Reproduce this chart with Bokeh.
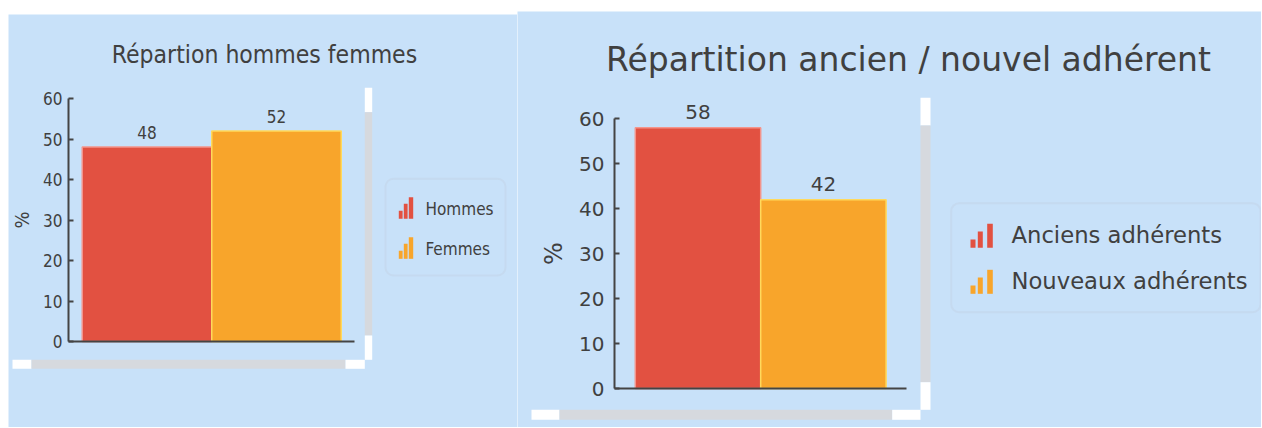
from bokeh.plotting import figure
from bokeh.models import (ColumnDataSource, LinearAxis, FixedTicker, Range1d,
                          Label, BoxAnnotation, Spacer)
from bokeh.layouts import row, column
from bokeh.core.properties import value
from bokeh.embed import file_html
from bokeh.resources import INLINE

# ---------------- data ----------------
gender_categories = ["Hommes", "Femmes"]
gender_values = [48, 52]
member_categories = ["Anciens adhérents", "Nouveaux adhérents"]
member_values = [58, 42]
y_ticks = [0, 10, 20, 30, 40, 50, 60]
title_gender = "Répartion hommes femmes"
title_member = "Répartition ancien / nouvel adhérent"
y_axis_label = "%"

# ---------------- styles ----------------
BG = "#c8e1f9"
BAR_FILL = ["#e25141", "#f8a52b"]
BAR_LINE = ["#f4948b", "#ffd95c"]
TEXT = "#404040"
AXIS = "#444444"
DECO_GREY = "#d6d9de"
DECO_WHITE = "#ffffff"
LEGEND_BORDER = "#bfcbd9"

PAGE_X0 = 8  # white strip on the left of the first panel

# layout constants in page pixels (text y = visual centre of the text)
LEFT_CFG = dict(
    left=8, top=14, width=509, height=413,
    y0=341, y60=98, x_c0=146.5, bar_px=129.5,
    axis_x=68, axis_x_end=354,
    font="DejaVu Sans Condensed",
    title_size=24.5, title_cx=264, title_cy=54,
    tick_size=17, tick_standoff=6, lab_size=20, lab_standoff=6,
    val_size=17, val_off=14.5,
    leg_box=(385, 505, 178.3, 275), leg_text_x=425, leg_cy=[208.3, 248.3], leg_size=17,
    icon_left=398.3, icon_bottom=[218.3, 258.3],
    icon_bars=[(0, 3.8, 8), (5, 8.8, 15), (10, 14.4, 21.6)],
    deco=[
        (364.3, 371.7, 87.3, 111.7, DECO_WHITE),
        (364.3, 371.7, 111.7, 335, DECO_GREY),
        (364.3, 371.7, 335, 359.3, DECO_WHITE),
        (12, 31, 359.3, 368.3, DECO_WHITE),
        (31, 345, 359.3, 368.3, DECO_GREY),
        (345, 364.3, 359.3, 368.3, DECO_WHITE),
    ],
)

RIGHT_CFG = dict(
    left=517, top=11, width=744, height=416,
    y0=388, y60=118.3, x_c0=697.5, bar_px=125.4,
    axis_x=614, axis_x_end=906,
    font="DejaVu Sans",
    title_size=33, title_cx=908, title_cy=58.5,
    tick_size=20, tick_standoff=10, lab_size=24, lab_standoff=8,
    val_size=20, val_off=16,
    leg_box=(950.7, 1260, 202.7, 311.7), leg_text_x=1011, leg_cy=[234.7, 280.5], leg_size=22.7,
    icon_left=970, icon_bottom=[247.3, 293.3],
    icon_bars=[(0, 5, 8.3), (7.3, 12.3, 16.3), (16.7, 22.3, 24)],
    deco=[
        (920, 930, 97.3, 125, DECO_WHITE),
        (920, 930, 125, 381.7, DECO_GREY),
        (920, 930, 381.7, 409.3, DECO_WHITE),
        (531, 559, 409.3, 419.3, DECO_WHITE),
        (559, 891.7, 409.3, 419.3, DECO_GREY),
        (891.7, 920, 409.3, 419.3, DECO_WHITE),
    ],
)


def make_panel(cats, vals, title, cfg):
    L, T, W, H = cfg["left"], cfg["top"], cfg["width"], cfg["height"]
    ky = (cfg["y0"] - cfg["y60"]) / 60.0
    kx = cfg["bar_px"]

    def dx(px):
        return (px - cfg["x_c0"]) / kx

    def dy(py):
        return (cfg["y0"] - py) / ky

    font = cfg["font"]
    p = figure(width=W, height=H,
               x_range=Range1d(dx(L), dx(L + W)),
               y_range=Range1d(dy(T + H), dy(T)),
               x_axis_type=None, y_axis_type=None,
               toolbar_location=None, output_backend="svg",
               min_border=0, title=None,
               background_fill_color=BG, border_fill_color=BG,
               outline_line_color=None)

    # decorations (shadow bars)
    deco = cfg["deco"]
    p.quad(left=[dx(d[0]) for d in deco], right=[dx(d[1]) for d in deco],
           top=[dy(d[2]) for d in deco], bottom=[dy(d[3]) for d in deco],
           fill_color=[d[4] for d in deco], line_color=None)

    # bars
    src = ColumnDataSource(dict(x=list(range(len(cats))), top=vals, cat=cats,
                                fill=BAR_FILL[:len(cats)], line=BAR_LINE[:len(cats)],
                                lbl=[str(v) for v in vals]))
    p.vbar(x="x", top="top", bottom=0, width=1, fill_color="fill",
           line_color="line", line_width=1.5, source=src)
    p.text(x="x", y="top", text="lbl", text_align="center",
           text_baseline="middle", y_offset=-cfg["val_off"],
           text_font=value(font), text_font_size=f"{cfg['val_size']}px",
           text_color=TEXT, source=src)

    # axes
    yax = LinearAxis(fixed_location=dx(cfg["axis_x"]), bounds=(0, 60),
                     ticker=FixedTicker(ticks=y_ticks), axis_label=y_axis_label)
    yax.axis_line_color = AXIS
    yax.axis_line_width = 2
    yax.major_tick_line_color = AXIS
    yax.major_tick_line_width = 2
    yax.major_tick_in = 5
    yax.major_tick_out = 0
    yax.minor_tick_in = 0
    yax.minor_tick_out = 0
    yax.major_label_text_font = font
    yax.major_label_text_font_size = f"{cfg['tick_size']}px"
    yax.major_label_text_color = TEXT
    yax.major_label_standoff = cfg["tick_standoff"]
    yax.axis_label_text_font = font
    yax.axis_label_text_font_size = f"{cfg['lab_size']}px"
    yax.axis_label_text_font_style = "normal"
    yax.axis_label_text_color = TEXT
    yax.axis_label_standoff = cfg["lab_standoff"]
    p.add_layout(yax, "left")

    xax = LinearAxis(fixed_location=0, bounds=(dx(cfg["axis_x"]), dx(cfg["axis_x_end"])),
                     ticker=FixedTicker(ticks=[]))
    xax.axis_line_color = AXIS
    xax.axis_line_width = 2
    xax.major_tick_line_color = None
    xax.minor_tick_line_color = None
    xax.major_label_text_font_size = "0px"
    p.add_layout(xax, "below")

    # title
    p.add_layout(Label(x=dx(cfg["title_cx"]), y=dy(cfg["title_cy"]), text=title,
                       text_align="center", text_baseline="middle",
                       text_font=font, text_font_size=f"{cfg['title_size']}px",
                       text_color=TEXT))

    # legend
    lb = cfg["leg_box"]
    p.add_layout(BoxAnnotation(left=dx(lb[0]), right=dx(lb[1]), top=dy(lb[2]), bottom=dy(lb[3]),
                               fill_color=BG, fill_alpha=1.0, line_color=LEGEND_BORDER,
                               line_width=2, border_radius=8, level="underlay"))
    il, ir, it, ib, ic = [], [], [], [], []
    for i, bottom in enumerate(cfg["icon_bottom"]):
        for (a, b, h) in cfg["icon_bars"]:
            il.append(dx(cfg["icon_left"] + a))
            ir.append(dx(cfg["icon_left"] + b))
            it.append(dy(bottom - h))
            ib.append(dy(bottom))
            ic.append(BAR_FILL[i])
    p.quad(left=il, right=ir, top=it, bottom=ib, fill_color=ic, line_color=None)
    p.text(x=[dx(cfg["leg_text_x"])] * len(cats), y=[dy(c) for c in cfg["leg_cy"]],
           text=cats, text_align="left", text_baseline="middle",
           text_font=value(font), text_font_size=f"{cfg['leg_size']}px", text_color=TEXT)
    return p


p_left = make_panel(gender_categories, gender_values, title_gender, LEFT_CFG)
p_right = make_panel(member_categories, member_values, title_member, RIGHT_CFG)

layout = row(Spacer(width=PAGE_X0, height=10),
             column(Spacer(width=LEFT_CFG["width"], height=LEFT_CFG["top"]), p_left),
             column(Spacer(width=RIGHT_CFG["width"], height=RIGHT_CFG["top"]), p_right))

open("out.html", "w").write(file_html(layout, INLINE))
